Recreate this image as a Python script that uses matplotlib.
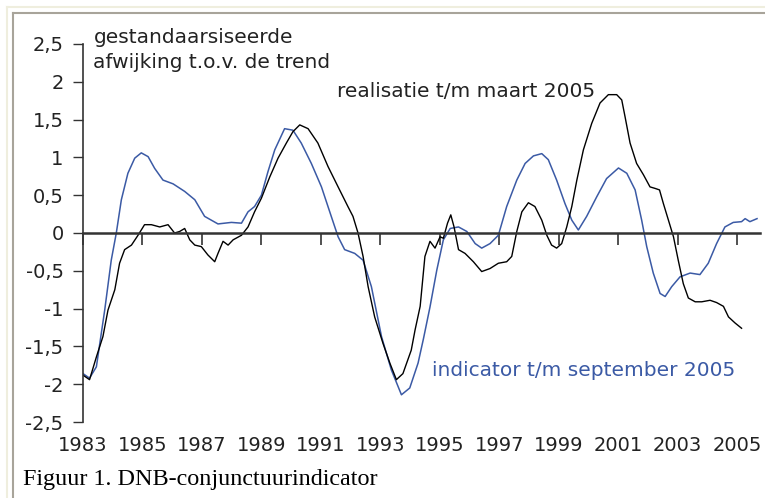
import matplotlib.pyplot as plt
from matplotlib.lines import Line2D

# indicator (blauw) t/m september 2005
jaar_ind = [1983.0, 1983.22, 1983.45, 1983.73, 1983.95, 1984.12, 1984.29, 1984.51, 1984.74, 1984.96,
            1985.19, 1985.41, 1985.69, 1986.03, 1986.42, 1986.76, 1987.09, 1987.54, 1987.99, 1988.33,
            1988.55, 1988.77, 1989.0, 1989.22, 1989.45, 1989.78, 1990.06, 1990.34, 1990.68, 1991.02,
            1991.35, 1991.58, 1991.8, 1992.14, 1992.42, 1992.7, 1993.04, 1993.37, 1993.71, 1993.99,
            1994.27, 1994.45, 1994.67, 1994.9, 1995.12, 1995.35, 1995.63, 1995.91, 1996.19, 1996.41,
            1996.69, 1996.97, 1997.25, 1997.59, 1997.87, 1998.15, 1998.43, 1998.65, 1998.93, 1999.21,
            1999.44, 1999.66, 1999.94, 2000.28, 2000.61, 2001.01, 2001.29, 2001.57, 2001.79, 2001.96,
            2002.18, 2002.41, 2002.58, 2002.8, 2003.08, 2003.42, 2003.75, 2004.03, 2004.31, 2004.59,
            2004.87, 2005.15, 2005.27, 2005.43, 2005.67]
waarde_ind = [-1.86, -1.92, -1.77, -1.02, -0.36, 0.0, 0.44, 0.79, 0.99, 1.06,
              1.01, 0.855, 0.70, 0.65, 0.55, 0.44, 0.22, 0.12, 0.14, 0.13,
              0.28, 0.35, 0.50, 0.81, 1.10, 1.38, 1.36, 1.19, 0.92, 0.61,
              0.22, -0.05, -0.22, -0.27, -0.36, -0.71, -1.37, -1.81, -2.14, -2.05,
              -1.72, -1.40, -0.98, -0.49, -0.09, 0.06, 0.08, 0.02, -0.14, -0.20,
              -0.14, -0.03, 0.35, 0.70, 0.92, 1.02, 1.05, 0.97, 0.70, 0.39,
              0.17, 0.04, 0.22, 0.48, 0.72, 0.86, 0.79, 0.57, 0.17, -0.18,
              -0.53, -0.80, -0.84, -0.71, -0.58, -0.53, -0.55, -0.40, -0.14, 0.08,
              0.14, 0.15, 0.19, 0.15, 0.19]

# realisatie (zwart) t/m maart 2005
jaar_real = [1983.0, 1983.22, 1983.45, 1983.67, 1983.84, 1984.07, 1984.23, 1984.4, 1984.63, 1984.85,
             1985.07, 1985.3, 1985.58, 1985.86, 1986.08, 1986.25, 1986.42, 1986.59, 1986.76, 1986.98,
             1987.2, 1987.43, 1987.54, 1987.71, 1987.88, 1988.05, 1988.33, 1988.55, 1988.77, 1989.0,
             1989.28, 1989.56, 1989.84, 1990.06, 1990.29, 1990.57, 1990.9, 1991.24, 1991.58, 1991.91,
             1992.08, 1992.25, 1992.42, 1992.59, 1992.81, 1993.09, 1993.32, 1993.54, 1993.76, 1994.04,
             1994.17, 1994.34, 1994.5, 1994.67, 1994.84, 1995.01, 1995.12, 1995.26, 1995.37, 1995.48,
             1995.63, 1995.85, 1996.13, 1996.41, 1996.69, 1996.97, 1997.25, 1997.42, 1997.59, 1997.76,
             1997.98, 1998.2, 1998.43, 1998.6, 1998.76, 1998.93, 1999.1, 1999.27, 1999.44, 1999.61,
             1999.83, 2000.11, 2000.39, 2000.67, 2000.95, 2001.12, 2001.23, 2001.4, 2001.62, 2001.85,
             2002.07, 2002.24, 2002.39, 2002.52, 2002.69, 2002.86, 2003.02, 2003.19, 2003.36, 2003.59,
             2003.81, 2004.09, 2004.31, 2004.54, 2004.71, 2004.93, 2005.15]
waarde_real = [-1.88, -1.94, -1.64, -1.37, -1.02, -0.75, -0.40, -0.22, -0.16, -0.03,
               0.11, 0.11, 0.08, 0.11, 0.0, 0.02, 0.06, -0.09, -0.16, -0.18,
               -0.29, -0.38, -0.27, -0.11, -0.16, -0.09, -0.03, 0.08, 0.28, 0.46,
               0.74, 0.99, 1.19, 1.34, 1.43, 1.38, 1.19, 0.88, 0.61, 0.35,
               0.22, 0.0, -0.31, -0.71, -1.11, -1.46, -1.72, -1.94, -1.86, -1.55,
               -1.28, -0.97, -0.31, -0.11, -0.20, -0.05, -0.07, 0.13, 0.24, 0.08,
               -0.22, -0.27, -0.38, -0.51, -0.47, -0.40, -0.38, -0.31, 0.02, 0.28,
               0.40, 0.35, 0.17, -0.03, -0.16, -0.20, -0.14, 0.08, 0.35, 0.70,
               1.10, 1.45, 1.72, 1.83, 1.83, 1.76, 1.54, 1.19, 0.92, 0.77,
               0.61, 0.59, 0.57, 0.39, 0.17, -0.05, -0.36, -0.67, -0.86, -0.91,
               -0.91, -0.89, -0.92, -0.97, -1.11, -1.19, -1.26]

x_ticks = [1983, 1985, 1987, 1989, 1991, 1993, 1995, 1997, 1999, 2001, 2003, 2005]
y_ticks = [2.5, 2, 1.5, 1, 0.5, 0, -0.5, -1, -1.5, -2, -2.5]
y_labels = ['2,5', '2', '1,5', '1', '0,5', '0', '-0,5', '-1', '-1,5', '-2', '-2,5']

blauw = '#3b5aa5'
tekstkleur = '#222222'

fig = plt.figure(figsize=(7.65, 4.98), dpi=100)
W, H = 765, 498
ax = fig.add_axes([83 / W, (H - 422) / H, (760 - 83) / W, (422 - 44) / H])

# lijnen
ax.plot(jaar_ind, waarde_ind, color=blauw, lw=1.1)
ax.plot(jaar_real, waarde_real, color='black', lw=1.0)

ax.set_xlim(1983, 2005.77)
ax.set_ylim(-2.5, 2.5)

# assen
ax.spines['top'].set_visible(False)
ax.spines['right'].set_visible(False)
ax.spines['bottom'].set_position(('data', 0))
ax.spines['bottom'].set_linewidth(1.8)
ax.spines['bottom'].set_color('#333333')
ax.spines['left'].set_linewidth(1.2)
ax.spines['left'].set_color('#333333')

ax.set_xticks(x_ticks)
ax.set_xticklabels([str(j) for j in x_ticks])
ax.tick_params(axis='x', direction='out', length=8.5, width=1.2, color='#333333',
               pad=138, labelsize=14, labelcolor=tekstkleur)
ax.set_yticks(y_ticks)
ax.set_yticklabels(y_labels)
ax.tick_params(axis='y', direction='out', length=7, width=1.0, color='#333333',
               pad=7, labelsize=14, labelcolor=tekstkleur)

# teksten
ax.text(1983.35, 2.51, 'gestandaarsiseerde', fontsize=14.5, color=tekstkleur, va='baseline')
ax.text(1983.35, 2.18, 'afwijking t.o.v. de trend', fontsize=14.5, color=tekstkleur, va='baseline')
ax.text(1991.54, 1.80, 'realisatie t/m maart 2005', fontsize=14.5, color=tekstkleur, va='baseline')
ax.text(1994.74, -1.89, 'indicator t/m september 2005', fontsize=14.5, color=blauw, va='baseline')

# bijschrift
fig.text(23 / W, 1 - 485 / H, 'Figuur 1. DNB-conjunctuurindicator', family='Liberation Serif',
         fontsize=17.4, color='black', va='baseline')

# kader rond de figuur
fig.add_artist(Line2D([7 / W, 1], [1 - 7 / H, 1 - 7 / H], color='#efeede', lw=1.5))
fig.add_artist(Line2D([7 / W, 7 / W], [0, 1 - 7 / H], color='#efeede', lw=1.5))
fig.add_artist(Line2D([13 / W, 1], [1 - 13 / H, 1 - 13 / H], color='#a8a49a', lw=1.5))
fig.add_artist(Line2D([13 / W, 13 / W], [0, 1 - 13 / H], color='#a8a49a', lw=1.5))

fig.savefig('out.png', dpi=100)
